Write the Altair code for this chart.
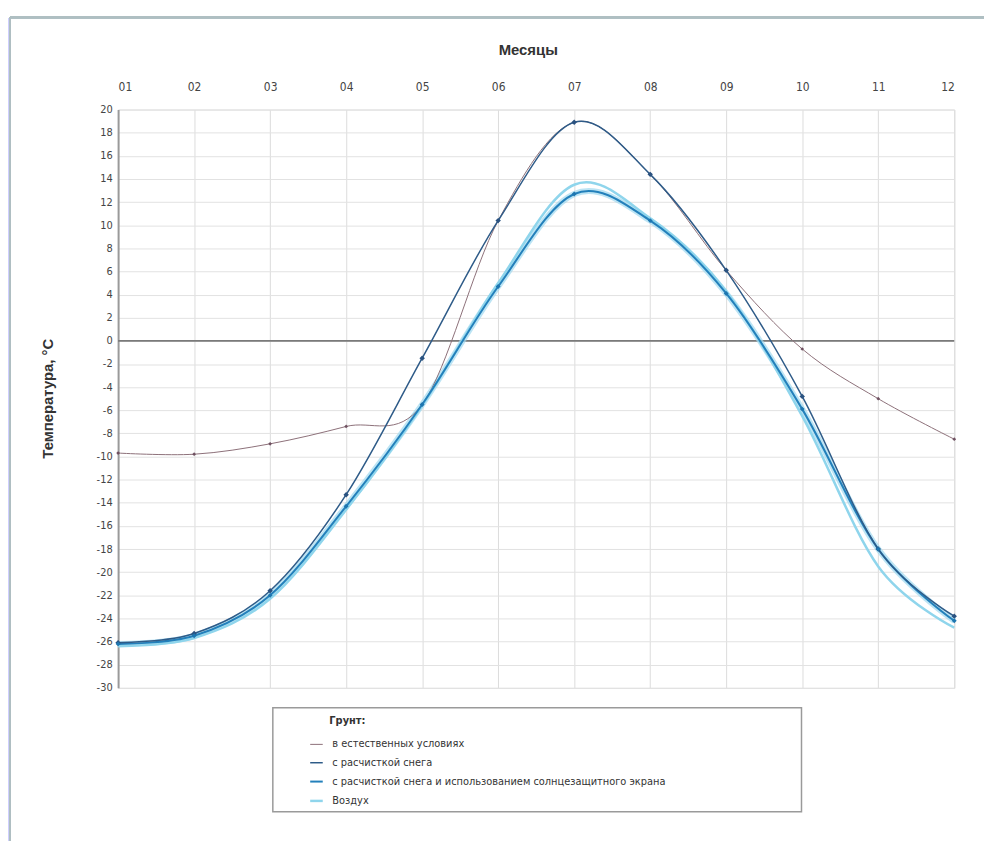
import altair as alt
import pandas as pd

months = list(range(1, 13))
series_names = [
    "в естественных условиях",
    "с расчисткой снега",
    "с расчисткой снега и использованием солнцезащитного экрана",
    "Воздух",
]
natural = [-9.7, -9.8, -8.9, -7.4, -5.5, 10.4, 18.9, 14.4, 6.1, -0.7, -5.0, -8.5]
snow = [-26.1, -25.3, -21.6, -13.3, -1.5, 10.4, 18.9, 14.4, 6.1, -4.8, -18.0, -23.8]
screen = [-26.2, -25.5, -22.0, -14.3, -5.5, 4.7, 12.7, 10.4, 4.1, -5.9, -18.0, -24.2]
air = [-26.4, -25.7, -22.3, -14.6, -5.6, 5.0, 13.5, 10.6, 4.3, -6.5, -19.5, -24.8]

colors = ["#8c6f78", "#2e5b88", "#2380bb", "#8fd5ec"]
widths = [1.0, 2.5, 3.0, 1.3]
marker_sizes = [14, 30, 24]
marker_colors = ["#6e5060", "#2a5280", "#1d76b0"]

draw_order = [0, 3, 2, 1]
values = [natural, snow, screen, air]
rows = []
for i in draw_order:
    for m, v in zip(months, values[i]):
        rows.append({"month": m, "temp": v, "series": series_names[i], "order": draw_order.index(i)})
df = pd.DataFrame(rows)

FONT = "Liberation Sans Narrow, DejaVu Sans Condensed, Roboto, Liberation Sans, sans-serif"
W, H = 843, 583

x_enc = alt.X(
    "month:Q",
    scale=alt.Scale(domain=[1, 12], nice=False, zero=False),
    axis=alt.Axis(
        orient="top", values=months, grid=True, gridColor="#dcdcdc", ticks=False,
        domain=False, labelExpr="datum.value < 10 ? '0' + datum.value : '' + datum.value",
        labelFont=FONT, labelFontSize=12, labelColor="#444", labelPadding=16,
        title="Месяцы", titleFont="Liberation Sans, Arial, sans-serif", titleFontSize=15,
        titleFontWeight="bold", titleColor="#333", titleX=413, titleY=-61,
        titleBaseline="middle",
    ),
)
y_enc = alt.Y(
    "temp:Q",
    scale=alt.Scale(domain=[-30, 20], nice=False, zero=False),
    axis=alt.Axis(
        values=list(range(-30, 21, 2)), grid=True, gridColor="#e2e2e2", ticks=False,
        labelOverlap=False, labelExpr="'' + datum.value",
        domainColor="#9a9a9a", domainWidth=2, labelFont=FONT, labelFontSize=11,
        labelColor="#444", labelPadding=6,
        title="Температура, °С", titleFont="Liberation Sans, Arial, sans-serif",
        titleFontSize=15, titleFontWeight="bold", titleColor="#333",
        titleX=-71, titleY=291, titleAngle=-90, titleBaseline="middle", titleAlign="center",
    ),
)

color_scale = alt.Scale(domain=series_names, range=colors)
width_scale = alt.Scale(domain=series_names, range=widths)

legend = alt.Legend(
    orient="none", legendX=192, legendY=633, title=None, symbolType="stroke",
    symbolSize=160, labelFont=FONT, labelFontSize=11,
    labelColor="#333", labelLimit=600, rowPadding=6, labelOffset=8, padding=0,
)

base = alt.Chart(df)

frame_top = base.mark_rule(color="#afbfc2", strokeWidth=2).encode(
    x=alt.value(-109), x2=alt.value(900), y=alt.value(-93))
frame_left = base.mark_rule(color="#afbfc2", strokeWidth=2).encode(
    x=alt.value(-109), y=alt.value(-93), y2=alt.value(760))

zero = alt.Chart(pd.DataFrame({"temp": [0]})).mark_rule(color="#7a7a7a", strokeWidth=1.6).encode(
    y=y_enc)

glow = base.transform_filter(alt.datum.series == series_names[2]).mark_line(
    interpolate="cardinal", color="#9fd8f0", strokeWidth=6, opacity=0.7
).encode(x=x_enc, y=y_enc, detail="series:N")

lines = base.mark_line(interpolate="cardinal").encode(
    x=x_enc, y=y_enc,
    color=alt.Color("series:N", scale=color_scale, legend=legend),
    strokeWidth=alt.StrokeWidth("series:N", scale=width_scale, legend=legend),
    order="order:Q",
)

pt_layers = []
for k in range(3):
    pt_layers.append(
        base.transform_filter(alt.datum.series == series_names[k]).mark_point(
            filled=True, shape="diamond", opacity=1, color=marker_colors[k], size=marker_sizes[k]
        ).encode(x=x_enc, y=y_enc)
    )

legend_box = alt.Chart(pd.DataFrame({"a": [0]})).mark_rect(
    fill="white", stroke="#9a9a9a", strokeWidth=1.5
).encode(x=alt.value(156), x2=alt.value(689), y=alt.value(603), y2=alt.value(708))

legend_title = alt.Chart(pd.DataFrame({"t": ["Грунт:"]})).mark_text(
    align="left", baseline="middle", font=FONT, fontSize=11, fontWeight="bold", color="#333"
).encode(x=alt.value(213), y=alt.value(616), text="t:N")

chart = alt.layer(
    frame_top, frame_left, zero, glow, lines, *pt_layers, legend_box, legend_title
).properties(
    width=W, height=H,
    autosize=alt.AutoSizeParams(type="none"),
    padding={"left": 111, "top": 99, "right": 30, "bottom": 151},
).configure_view(stroke=None).configure(background="white")

chart.save("out.html", embed_options={"renderer": "svg", "actions": False})
